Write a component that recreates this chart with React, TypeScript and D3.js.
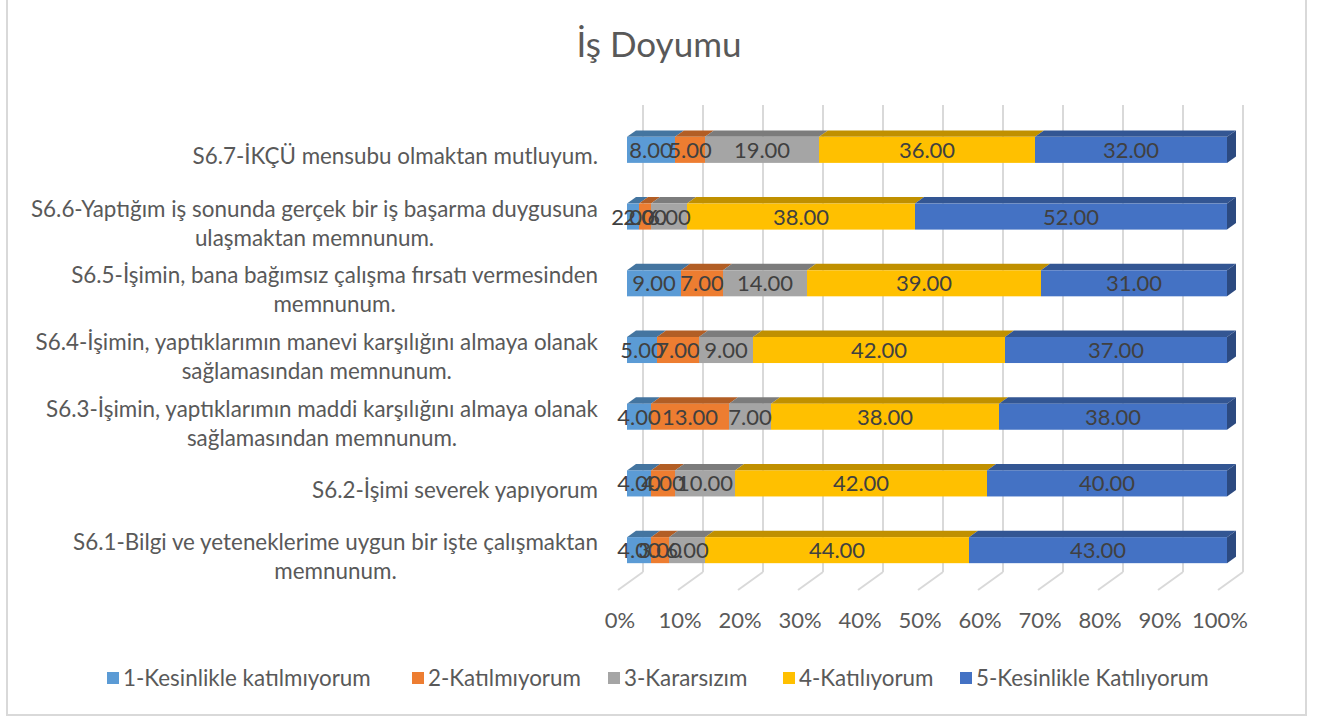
import React, { useEffect, useRef } from "react";
import * as d3 from "d3";

const categories = [
  "S6.7-İKÇÜ mensubu olmaktan mutluyum.",
  "S6.6-Yaptığım iş sonunda gerçek bir iş başarma duygusuna\nulaşmaktan memnunum.",
  "S6.5-İşimin, bana bağımsız çalışma fırsatı vermesinden\nmemnunum.",
  "S6.4-İşimin, yaptıklarımın manevi karşılığını almaya olanak\nsağlamasından memnunum.",
  "S6.3-İşimin, yaptıklarımın maddi karşılığını almaya olanak\nsağlamasından memnunum.",
  "S6.2-İşimi severek yapıyorum",
  "S6.1-Bilgi ve yeteneklerime uygun bir işte çalışmaktan\nmemnunum.",
];
const seriesNames = [
  "1-Kesinlikle katılmıyorum",
  "2-Katılmıyorum",
  "3-Kararsızım",
  "4-Katılıyorum",
  "5-Kesinlikle Katılıyorum",
];
const s1 = [8, 2, 9, 5, 4, 4, 4];
const s2 = [5, 2, 7, 7, 13, 4, 3];
const s3 = [19, 6, 14, 9, 7, 10, 6];
const s4 = [36, 38, 39, 42, 38, 42, 44];
const s5 = [32, 52, 31, 37, 38, 40, 43];
const seriesValues = [s1, s2, s3, s4, s5];
const colors = ["#5B9BD5", "#ED7D31", "#A5A5A5", "#FFC000", "#4472C4"];
const ticks = [0, 10, 20, 30, 40, 50, 60, 70, 80, 90, 100];
const legendX = [107, 412, 608, 783, 960];

const FONT = "Lato, 'Open Sans', sans-serif";

export default function App() {
  const ref = useRef<SVGSVGElement | null>(null);
  useEffect(() => {
    const svg = d3.select(ref.current);
    svg.selectAll("*").remove();
    const DX = 25, DY = -18;
    const z1 = 0.36, z2 = 0.72;
    const x = d3.scaleLinear().domain([0, 100]).range([618, 1218]);
    const y = d3.scaleBand<number>().domain(d3.range(categories.length)).range([123, 590]).paddingInner(0.61).paddingOuter(0.305);
    const P = (v: number, yy: number, z: number) => [x(v) + DX * z, yy + DY * z];

    svg.append("rect").attr("x", 7).attr("y", -2).attr("width", 1299).attr("height", 717)
      .attr("fill", "#fff").attr("stroke", "#d9d9d9").attr("stroke-width", 2);

    svg.append("text").attr("x", 659).attr("y", 57).attr("text-anchor", "middle")
      .attr("font-family", FONT).attr("font-size", 35).attr("fill", "#595959").text("İş Doyumu");

    const g = svg.append("g").attr("stroke", "#d9d9d9").attr("stroke-width", 2).attr("fill", "none");
    const yFloor = 590, yTop = 123;
    ticks.forEach((t) => {
      const [bx, by] = P(t, yFloor, 1);
      const [, ty] = P(t, yTop, 1);
      g.append("line").attr("x1", bx).attr("x2", bx).attr("y1", by).attr("y2", ty);
      const [fx, fy] = P(t, yFloor, 0);
      g.append("line").attr("x1", fx).attr("y1", fy).attr("x2", bx).attr("y2", by);
    });

    svg.append("g").selectAll("text").data(ticks).join("text")
      .attr("x", (d) => x(d) + 2).attr("y", 628).attr("text-anchor", "middle")
      .attr("font-family", FONT).attr("font-size", 22).attr("fill", "#595959")
      .text((d) => d + "%");

    const lab = svg.append("g");
    categories.forEach((c, i) => {
      const lines = c.split("\n");
      const cy = (y(i) as number) + y.bandwidth() / 2;
      const lh = 29;
      const nodes = lines.map((ln, k) =>
        lab.append("text").attr("y", cy + (k - (lines.length - 1) / 2) * lh + 8)
          .attr("text-anchor", "middle").attr("font-family", FONT).attr("font-size", 22.4)
          .attr("fill", "#595959").text(ln)
      );
      const widths = nodes.map((n) => (n.node() as SVGTextElement).getComputedTextLength());
      const bw = Math.max(...widths);
      nodes.forEach((n) => n.attr("x", 598 - bw / 2));
    });

    const bars = svg.append("g");
    const fmt = d3.format(".2f");
    categories.forEach((_, i) => {
      const yb = y(i) as number;
      const yb2 = yb + y.bandwidth();
      let acc = 0;
      const segs = seriesValues.map((s, k) => {
        const a = acc; acc += s[i];
        return { a, b: acc, k, v: s[i] };
      });
      segs.forEach(({ a, b, k }) => {
        const top = [P(a, yb, z1), P(b, yb, z1), P(b, yb, z2), P(a, yb, z2)];
        bars.append("polygon").attr("points", top.map((p) => p.join(",")).join(" "))
          .attr("fill", d3.rgb(colors[k]).darker(0.8).toString());
        const [fx0, fy0] = P(a, yb, z1);
        const [fx1, fy1] = P(b, yb2, z1);
        bars.append("rect").attr("x", fx0).attr("y", fy0).attr("width", fx1 - fx0).attr("height", fy1 - fy0)
          .attr("fill", colors[k]);
      });
      const last = segs[segs.length - 1];
      const side = [P(last.b, yb, z1), P(last.b, yb, z2), P(last.b, yb2, z2), P(last.b, yb2, z1)];
      bars.append("polygon").attr("points", side.map((p) => p.join(",")).join(" "))
        .attr("fill", d3.rgb(colors[last.k]).darker(1.2).toString());
      segs.forEach(({ a, b, v }) => {
        const [lx, ly] = P((a + b) / 2, (yb + yb2) / 2, z1);
        bars.append("text").attr("x", lx).attr("y", ly + 8).attr("text-anchor", "middle")
          .attr("font-family", FONT).attr("font-size", 22).attr("fill", "#404040").text(fmt(v));
      });
    });

    const lg = svg.append("g");
    seriesNames.forEach((n, k) => {
      lg.append("rect").attr("x", legendX[k]).attr("y", 672).attr("width", 12).attr("height", 12).attr("fill", colors[k]);
      lg.append("text").attr("x", legendX[k] + 16).attr("y", 686).attr("font-family", FONT)
        .attr("font-size", 22.4).attr("fill", "#595959").text(n);
    });
  }, []);
  return (
    <svg ref={ref} width={1322} height={720} style={{ position: "absolute", left: 0, top: 0 }} />
  );
}
